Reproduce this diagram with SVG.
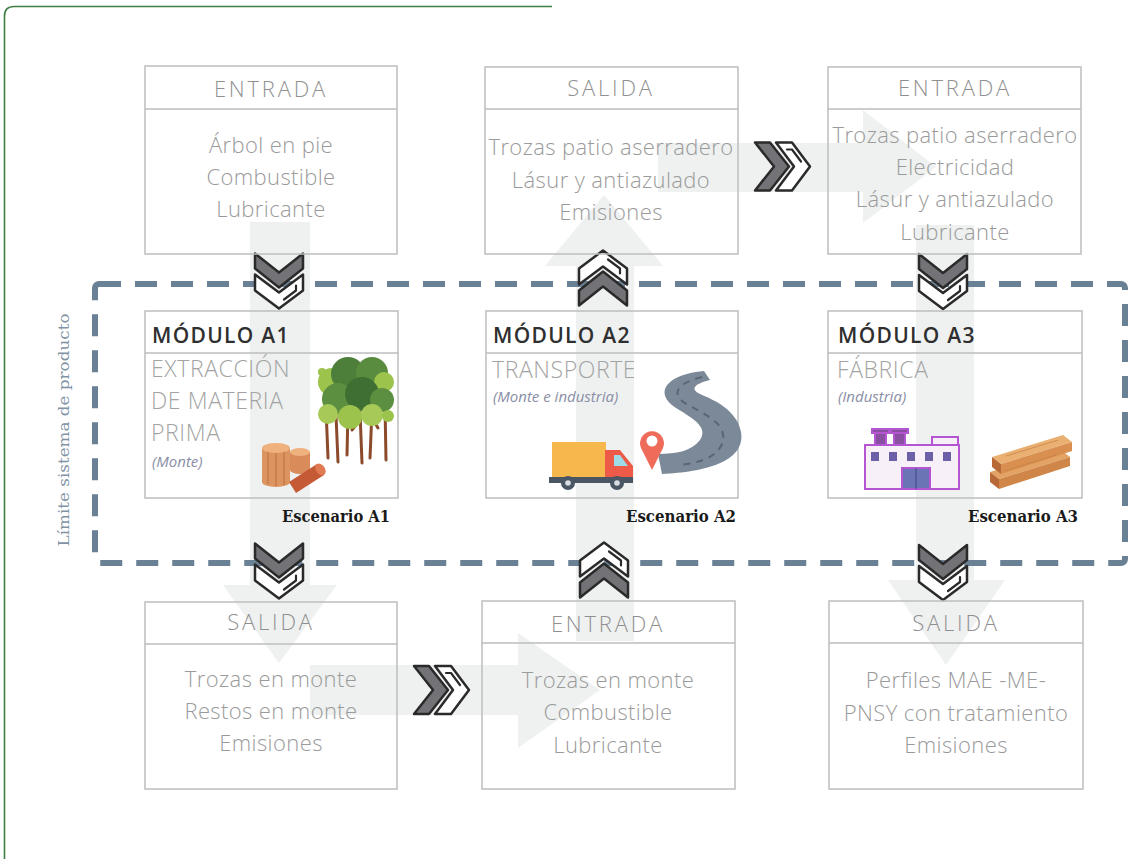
<svg xmlns="http://www.w3.org/2000/svg" xmlns:xlink="http://www.w3.org/1999/xlink" width="1129" height="859" viewBox="0 0 1129 859">
  <style>
    .box { fill: none; stroke: #bdbdbd; stroke-width: 1.5; }
    .hdr { font-family: "Open Sans", "Liberation Sans", sans-serif; font-weight: 300; font-size: 22px; fill: #8f8f8f; text-anchor: middle; letter-spacing: 2.8px; }
    .body { font-family: "Open Sans", "Liberation Sans", sans-serif; font-weight: 300; font-size: 22px; fill: #9a9a9a; text-anchor: middle; letter-spacing: 0.4px; }
    .mod { font-family: "Open Sans", "Liberation Sans", sans-serif; font-weight: 600; font-size: 21px; fill: #2f2f2f; letter-spacing: 1.3px; }
    .sub { font-family: "Open Sans", "Liberation Sans", sans-serif; font-weight: 300; font-size: 23px; fill: #a3a3a3; letter-spacing: 0.6px; }
    .loc { font-family: "Open Sans", "Liberation Sans", sans-serif; font-style: italic; font-size: 15px; fill: #8a8ea6; }
    .esc { font-family: "DejaVu Serif", "Liberation Serif", serif; font-weight: bold; font-size: 16px; fill: #1a1a1a; text-anchor: end; }
    .flow { fill: #eef1f0; }
    .chevA { fill: #737377; stroke: #2a2a2a; stroke-width: 2.5; stroke-linejoin: round; }
    .chevB { fill: #ffffff; stroke: #2a2a2a; stroke-width: 2.5; stroke-linejoin: round; }
    .chevL { fill: none; stroke: #2a2a2a; stroke-width: 2.2; stroke-linejoin: round; stroke-linecap: round; }
  </style>
  <defs>
    <!-- double chevron pointing down, centred on the origin -->
    <g id="chev">
      <polygon class="chevA" points="-24,-27 0,-8 24,-27 24,-12 0,7 -24,-12"/>
      <polygon class="chevB" points="-24,-6 0,12 24,-6 24,10 0,28 -24,10"/>
      <path class="chevL" d="M 5,19 L 17,10 L 17,5"/>
    </g>
  </defs>

  <rect width="1129" height="859" fill="#ffffff"/>

  <!-- outer green frame -->
  <path d="M 552 6.5 H 14 Q 4.5 6.5 4.5 16 V 859" fill="none" stroke="#3f7f42" stroke-width="1.6"/>

  <!-- wide light flow arrows in the background -->
  <g id="connectors">
    <g id="flow-arrows">
      <rect class="flow" x="250" y="222" width="60" height="364"/>
      <polygon class="flow" points="223,585 337,585 279,663"/>
      <rect class="flow" x="310" y="665" width="210" height="50"/>
      <polygon class="flow" points="518,633 518,748 600,690"/>
      <rect class="flow" x="576" y="265" width="58" height="376"/>
      <polygon class="flow" points="545,266 663,266 604,195"/>
      <rect class="flow" x="658" y="143" width="207" height="49"/>
      <polygon class="flow" points="863,110 863,223 936,167"/>
      <rect class="flow" x="916" y="225" width="58" height="356"/>
      <polygon class="flow" points="888,580 1005,580 946,665"/>
    </g>

    <!-- product system boundary -->
    <rect x="95" y="284" width="1030" height="279" rx="4" fill="none" stroke="#6a8195" stroke-width="6" stroke-dasharray="22 14"/>
    <text transform="translate(69,430) rotate(-90)" text-anchor="middle" font-family="DejaVu Serif, Liberation Serif, serif" font-size="15" fill="#7f93a5" textLength="233" lengthAdjust="spacingAndGlyphs">Límite sistema de producto</text>

    <!-- chevron markers -->
    <use xlink:href="#chev" transform="translate(279,280.5)"/>
    <use xlink:href="#chev" transform="translate(603,278.5) scale(1,-1)"/>
    <use xlink:href="#chev" transform="translate(943,281)"/>
    <use xlink:href="#chev" transform="translate(279,570.5)"/>
    <use xlink:href="#chev" transform="translate(604,570.5) scale(1,-1)"/>
    <use xlink:href="#chev" transform="translate(943,572)"/>
    <use xlink:href="#chev" transform="translate(441,690) rotate(-90)"/>
    <use xlink:href="#chev" transform="translate(782,166.5) rotate(-90)"/>
  </g>

  <!-- top row -->
  <g id="in-a1">
    <rect class="box" x="145" y="66" width="252" height="188"/>
    <line class="box" x1="145" y1="109" x2="397" y2="109"/>
    <text class="hdr" x="271" y="97">ENTRADA</text>
    <text class="body" x="271" y="153">Árbol en pie</text>
    <text class="body" x="271" y="185">Combustible</text>
    <text class="body" x="271" y="217">Lubricante</text>
  </g>
  <g id="out-a2">
    <rect class="box" x="485" y="67" width="253" height="187"/>
    <line class="box" x1="485" y1="109" x2="738" y2="109"/>
    <text class="hdr" x="611" y="96">SALIDA</text>
    <text class="body" x="611" y="155">Trozas patio aserradero</text>
    <text class="body" x="611" y="188">Lásur y antiazulado</text>
    <text class="body" x="611" y="220">Emisiones</text>
  </g>
  <g id="in-a3">
    <rect class="box" x="828" y="67" width="253" height="187"/>
    <line class="box" x1="828" y1="109" x2="1081" y2="109"/>
    <text class="hdr" x="955" y="96">ENTRADA</text>
    <text class="body" x="955" y="143">Trozas patio aserradero</text>
    <text class="body" x="955" y="175">Electricidad</text>
    <text class="body" x="955" y="207">Lásur y antiazulado</text>
    <text class="body" x="955" y="240">Lubricante</text>
  </g>

  <!-- module A1: extraction -->
  <g id="mod-a1">
    <rect class="box" x="145" y="311" width="253" height="187"/>
    <line class="box" x1="145" y1="353" x2="398" y2="353"/>
    <text class="mod" x="152" y="343">MÓDULO A1</text>
    <text class="sub" x="151" y="377">EXTRACCIÓN</text>
    <text class="sub" x="151" y="409">DE MATERIA</text>
    <text class="sub" x="151" y="441">PRIMA</text>
    <text class="loc" x="152" y="467">(Monte)</text>
    <g id="trees">
      <g stroke="#8b4a2b" stroke-width="3" stroke-linecap="round">
        <line x1="326" y1="408" x2="328" y2="458"/>
        <line x1="336" y1="415" x2="338" y2="462"/>
        <line x1="348" y1="410" x2="347" y2="455"/>
        <line x1="360" y1="412" x2="362" y2="463"/>
        <line x1="372" y1="410" x2="370" y2="458"/>
        <line x1="385" y1="405" x2="386" y2="460"/>
        <line x1="352" y1="430" x2="360" y2="420"/>
        <line x1="378" y1="428" x2="372" y2="418"/>
      </g>
      <circle cx="332" cy="382" r="14" fill="#9cc34b"/>
      <circle cx="348" cy="374" r="17" fill="#4d7f3a"/>
      <circle cx="372" cy="373" r="16" fill="#5a8c3f"/>
      <circle cx="384" cy="382" r="10" fill="#9cc34b"/>
      <circle cx="338" cy="399" r="16" fill="#5c8f40"/>
      <circle cx="362" cy="394" r="17" fill="#3f6f32"/>
      <circle cx="382" cy="400" r="12" fill="#5c8f40"/>
      <circle cx="328" cy="414" r="10" fill="#a7c957"/>
      <circle cx="350" cy="417" r="12" fill="#9cc34b"/>
      <circle cx="372" cy="415" r="11" fill="#a7c957"/>
      <circle cx="388" cy="416" r="6" fill="#9cc34b"/>
      <circle cx="322" cy="372" r="4" fill="#9cc34b"/>
    </g>
    <g id="logs">
      <path d="M 290 452 V 470 A 10 4 0 0 0 310 470 V 452 Z" fill="#d98b5a"/>
      <ellipse cx="300" cy="452" rx="10" ry="4" fill="#efb27f"/>
      <path d="M 262 448 V 482 A 14 5 0 0 0 290 482 V 448 Z" fill="#dc9460"/>
      <g stroke="#c27444" stroke-width="1.2">
        <line x1="268" y1="452" x2="268" y2="484"/>
        <line x1="276" y1="453" x2="276" y2="486"/>
        <line x1="284" y1="452" x2="284" y2="485"/>
      </g>
      <ellipse cx="276" cy="448" rx="14" ry="5" fill="#efb27f"/>
      <path d="M 289 482 L 317 464 L 324 475 L 296 493 Z" fill="#c45a36"/>
      <ellipse cx="320.5" cy="469.5" rx="4.5" ry="6.5" transform="rotate(-33 320.5 469.5)" fill="#e07a52"/>
    </g>
    <text class="esc" x="390" y="522" textLength="108" lengthAdjust="spacingAndGlyphs">Escenario A1</text>
  </g>

  <!-- module A2: transport -->
  <g id="mod-a2">
    <rect class="box" x="486" y="311" width="252" height="187"/>
    <line class="box" x1="486" y1="353" x2="738" y2="353"/>
    <text class="mod" x="493" y="343">MÓDULO A2</text>
    <text class="sub" x="492" y="378">TRANSPORTE</text>
    <text class="loc" x="493" y="402">(Monte e industria)</text>
    <g id="road">
      <path d="M 704 371 C 668 374 652 392 676 408 C 696 420 708 428 700 440 C 692 451 676 454 658 454 L 662 474 C 704 472 746 462 741 432 C 737 410 714 400 700 394 C 690 389 694 384 710 380 Z" fill="#7c8998"/>
      <path d="M 702 377 C 674 384 670 396 690 406 C 712 418 728 426 722 444 C 716 458 698 463 680 465" fill="none" stroke="#5a6676" stroke-width="2" stroke-dasharray="7 6"/>
    </g>
    <g id="truck">
      <rect x="552" y="442" width="54" height="35" fill="#f6b74c"/>
      <path d="M 605 450 H 620 L 633 466 V 483 H 605 Z" fill="#ee5a48"/>
      <path d="M 614 455 H 620 L 628 466 H 614 Z" fill="#9fdbe6"/>
      <rect x="549" y="477" width="84" height="6" fill="#4a5663"/>
      <circle cx="568" cy="483" r="7" fill="#4a5663"/>
      <circle cx="568" cy="483" r="2.8" fill="#d9dde1"/>
      <circle cx="617" cy="483" r="7" fill="#4a5663"/>
      <circle cx="617" cy="483" r="2.8" fill="#d9dde1"/>
    </g>
    <g id="pin">
      <path d="M 652 470 L 641 448 A 12 12 0 1 1 663 448 Z" fill="#ef6b5a"/>
      <circle cx="652" cy="441" r="5.5" fill="#ffffff"/>
    </g>
    <text class="esc" x="736" y="522" textLength="110" lengthAdjust="spacingAndGlyphs">Escenario A2</text>
  </g>

  <!-- module A3: factory -->
  <g id="mod-a3">
    <rect class="box" x="828" y="311" width="254" height="187"/>
    <line class="box" x1="828" y1="353" x2="1082" y2="353"/>
    <text class="mod" x="838" y="343">MÓDULO A3</text>
    <text class="sub" x="837" y="378">FÁBRICA</text>
    <text class="loc" x="838" y="402">(Industria)</text>
    <g id="factory" stroke="#b455d2" stroke-width="2">
      <rect x="875" y="432" width="11" height="14" fill="#8a4fa0"/>
      <rect x="872" y="429" width="17" height="4" fill="#8a4fa0"/>
      <rect x="894" y="432" width="11" height="14" fill="#8a4fa0"/>
      <rect x="891" y="429" width="17" height="4" fill="#8a4fa0"/>
      <rect x="932" y="437" width="26" height="9" fill="#f8f0f8"/>
      <rect x="865" y="445" width="94" height="44" fill="#f8f0f8"/>
      <g fill="#6b5fa8" stroke="none">
        <rect x="871" y="452" width="8" height="9"/>
        <rect x="889" y="452" width="8" height="9"/>
        <rect x="907" y="452" width="8" height="9"/>
        <rect x="925" y="452" width="8" height="9"/>
        <rect x="943" y="452" width="8" height="9"/>
      </g>
      <rect x="902" y="468" width="28" height="21" fill="#6b74b4" stroke="#b455d2"/>
      <line x1="916" y1="468" x2="916" y2="489" stroke="#4a4f8a" stroke-width="1.2"/>
    </g>
    <g id="planks">
      <polygon points="990,472 1061,450 1070,457 999,479" fill="#e3a364"/>
      <polygon points="999,479 1070,457 1070,466 999,489" fill="#d08648"/>
      <polygon points="990,472 999,479 999,489 990,482" fill="#b86a36"/>
      <polygon points="992,457 1063,435 1072,442 1001,464" fill="#eab072"/>
      <polygon points="1001,464 1072,442 1072,451 1001,474" fill="#d98f50"/>
      <polygon points="992,457 1001,464 1001,474 992,467" fill="#b86a36"/>
      <line x1="1006" y1="456" x2="1058" y2="440" stroke="#cf8c4e" stroke-width="1"/>
      <line x1="1004" y1="471" x2="1056" y2="455" stroke="#c98447" stroke-width="1"/>
    </g>
    <text class="esc" x="1078" y="522" textLength="110" lengthAdjust="spacingAndGlyphs">Escenario A3</text>
  </g>

  <!-- bottom row -->
  <g id="out-a1">
    <rect class="box" x="145" y="602" width="252" height="187"/>
    <line class="box" x1="145" y1="644" x2="397" y2="644"/>
    <text class="hdr" x="271" y="630">SALIDA</text>
    <text class="body" x="271" y="687">Trozas en monte</text>
    <text class="body" x="271" y="719">Restos en monte</text>
    <text class="body" x="271" y="751">Emisiones</text>
  </g>
  <g id="in-a2">
    <rect class="box" x="482" y="601" width="253" height="188"/>
    <line class="box" x1="482" y1="643" x2="735" y2="643"/>
    <text class="hdr" x="608" y="632">ENTRADA</text>
    <text class="body" x="608" y="688">Trozas en monte</text>
    <text class="body" x="608" y="720">Combustible</text>
    <text class="body" x="608" y="753">Lubricante</text>
  </g>
  <g id="out-a3">
    <rect class="box" x="829" y="601" width="254" height="188"/>
    <line class="box" x1="829" y1="643" x2="1083" y2="643"/>
    <text class="hdr" x="956" y="631">SALIDA</text>
    <text class="body" x="956" y="688">Perfiles MAE -ME-</text>
    <text class="body" x="956" y="721">PNSY con tratamiento</text>
    <text class="body" x="956" y="753">Emisiones</text>
  </g>
</svg>
